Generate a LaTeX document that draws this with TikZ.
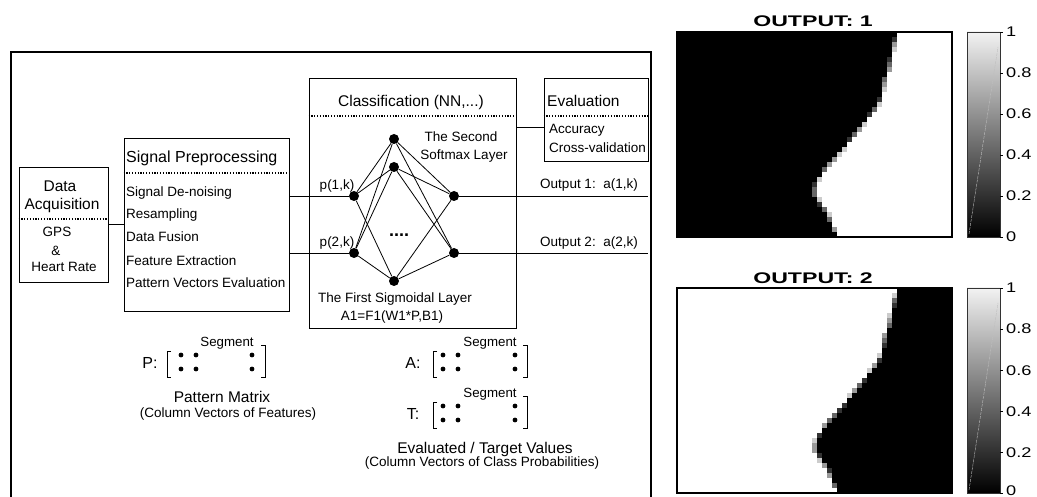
\documentclass[tikz,border=0pt]{standalone}
\usepackage{graphicx}
\usepackage{fontspec}
\setmainfont{Liberation Sans}
\begin{document}
\begin{tikzpicture}[x=1pt,y=-1pt,
  lbl/.style={inner sep=0pt, anchor=base, font=\fontsize{13.5}{16}\selectfont},
  lblw/.style={inner sep=0pt, anchor=base west, font=\fontsize{13.5}{16}\selectfont},
  big/.style={inner sep=0pt, anchor=base, font=\fontsize{15.5}{18}\selectfont},
  bigw/.style={inner sep=0pt, anchor=base west, font=\fontsize{15.5}{18}\selectfont},
  neu/.style={circle, fill=black, inner sep=0pt, minimum size=10pt},
  conn/.style={line width=0.8pt},
  box/.style={draw, line width=0.8pt, inner sep=0pt},
  dotl/.style={line width=1.3pt, dash pattern=on 1.2pt off 1.6pt},
  brk/.style={line width=0.8pt},
  ticklbl/.style={inner sep=0pt, anchor=base west, font=\fontsize{14}{16}\selectfont},
  ttl/.style={inner sep=0pt, anchor=base, font=\fontsize{15.4}{18}\selectfont\bfseries},
  cbar/.style={draw=black!80, line width=0.6pt}
]
\useasboundingbox (0,0) rectangle (1037,497);

% outer frame
\draw[line width=1.6pt] (11,497) -- (11,52) -- (651,52) -- (651,497);

% boxes
\node[box, minimum width=89pt, minimum height=115pt] (da) at (63.5,224.5) {};
\node[box, minimum width=165pt, minimum height=173pt] (sp) at (206.5,224.5) {};
\node[box, minimum width=207pt, minimum height=250pt] (cls) at (412.5,203) {};
\node[box, minimum width=104pt, minimum height=83pt] (ev) at (596,119.5) {};

% dotted separators
\draw[dotl] (da.west |- 0,219) -- (da.east |- 0,219);
\draw[dotl] (sp.west |- 0,173) -- (sp.east |- 0,173);
\draw[dotl] (cls.west |- 0,116) -- (cls.east |- 0,116);
\draw[dotl] (ev.west |- 0,116) -- (ev.east |- 0,116);

% Data acquisition text
\node[big] (t1) at (60,191.5) {Data};
\node[big] (t2) at (62,209.5) {Acquisition};
\node[lbl] (t3) at (57,237) {GPS};
\node[lbl] (t4) at (56,256) {\&};
\node[lbl] (t5) at (64,272) {Heart Rate};

% Signal preprocessing text
\node[inner sep=0pt, anchor=base west, font=\fontsize{16}{18}\selectfont] (s0) at (126,162.5) {Signal Preprocessing};
\node[lblw] (s1) at (126,197) {Signal De-noising};
\node[lblw] (s2) at (126,219) {Resampling};
\node[lblw] (s3) at (126,242) {Data Fusion};
\node[lblw] (s4) at (126,266) {Feature Extraction};
\node[lblw] (s5) at (126,288) {Pattern Vectors Evaluation};

% Classification & evaluation text
\node[big] (c0) at (411,106.5) {Classification (NN,...)};
\node[bigw] (e0) at (547,106.5) {Evaluation};
\node[lblw] (e1) at (549,134) {Accuracy};
\node[lblw] (e2) at (549,153) {Cross-validation};

% neurons
\node[neu] (i1) at (354,196) {};
\node[neu] (i2) at (354,253) {};
\node[neu] (h1) at (394,139) {};
\node[neu] (h2) at (394,167) {};
\node[neu] (h3) at (394,281) {};
\node[neu] (o1) at (454,196) {};
\node[neu] (o2) at (454,253) {};

\foreach \a in {i1,i2} \foreach \b in {h1,h2,h3} \draw[conn] (\a) -- (\b);
\foreach \a in {h1,h2,h3} \foreach \b in {o1,o2} \draw[conn] (\a) -- (\b);

% connectors
\draw[conn] (da.east) -- (sp.west);
\draw[conn] (sp.east |- i1) -- (i1);
\draw[conn] (sp.east |- i2) -- (i2);
\coordinate (out1) at (648,196);
\coordinate (out2) at (648,253);
\draw[conn] (o1) -- (out1);
\draw[conn] (o2) -- (out2);
\coordinate (ec) at (530,127);
\draw[conn] (cls.east |- ec) -- (ev.west |- ec);

% NN labels
\node[lbl] (p1) at (337,190) {p(1,k)};
\node[lbl] (p2) at (337,247) {p(2,k)};
\node[lbl] (a1) at (589,189) {Output 1:\ \ a(1,k)};
\node[lbl] (a2) at (589,247) {Output 2:\ \ a(2,k)};
\node[inner sep=0pt, anchor=base, font=\fontsize{18}{18}\selectfont\bfseries] (dd) at (399,236.5) {....};
\node[lbl] (l1) at (461,142) {The Second};
\node[lbl] (l2) at (464,160) {Softmax Layer};
\node[lbl] (l3) at (395,303) {The First Sigmoidal Layer};
\node[lbl] (l4) at (392,320) {A1=F1(W1*P,B1)};

% matrices
\newcommand{\mymat}[4]{% #1 left x, #2 right x, #3 y offset, #4 dot xs
  \draw[brk] ({#1+4},{351+#3}) -- (#1,{351+#3}) -- (#1,{377+#3}) -- ({#1+4},{377+#3});
  \draw[brk] ({#2-4},{345+#3}) -- (#2,{345+#3}) -- (#2,{377+#3}) -- ({#2-4},{377+#3});
  \foreach \dx in {#4} {
    \fill (\dx,{355+#3}) circle (2.4pt);
    \fill (\dx,{369+#3}) circle (2.4pt);
  }
}
\mymat{167}{265}{0}{181,196,252}
\mymat{433}{527}{0}{443,458,515}
\mymat{433}{527}{51}{443,458,515}

\node[inner sep=0pt, anchor=base, font=\fontsize{13.3}{15}\selectfont] (sg1) at (227,346) {Segment};
\node[inner sep=0pt, anchor=base, font=\fontsize{13.3}{15}\selectfont] (sg2) at (490,346) {Segment};
\node[inner sep=0pt, anchor=base, font=\fontsize{13.3}{15}\selectfont] (sg3) at (490,397) {Segment};
\node[inner sep=0pt, anchor=base, font=\fontsize{16}{18}\selectfont] (mp) at (150,368.5) {P:};
\node[inner sep=0pt, anchor=base, font=\fontsize{16}{18}\selectfont] (ma) at (413,368.5) {A:};
\node[inner sep=0pt, anchor=base, font=\fontsize{16}{18}\selectfont] (mt) at (413,419.5) {T:};
\node[big] (pm1) at (222,402.7) {Pattern Matrix};
\node[lbl] (pm2) at (228,417.5) {(Column Vectors of Features)};
\node[big] (ev1) at (485,453.6) {Evaluated / Target Values};
\node[lbl] (ev2) at (482,466.5) {(Column Vectors of Class Probabilities)};

% ---------- heatmaps ----------
\def\bndlist{897,896,894,893,892,891,890,889,887,885,884,883,882,881,878,875,871,867,863,859,855,851,847,843,838,834,829,825,822,818,816,815,815,818,821,825,828,830,832,834,837}

% heatmap 1
\fill[black] (677,32) rectangle (952,237);
\foreach \x [count=\i from 0] in \bndlist {
  \pgfmathtruncatemacro\c{floor((\x-677)/5)}
  \pgfmathtruncatemacro\g{100-round(100*((\x-677)/5-\c))}
  \fill[white!\g!black] ({677+5*\c},{32+5*\i}) rectangle ({682+5*\c},{37.2+5*\i});
  \fill[white] ({682+5*\c},{32+5*\i}) rectangle (952,{37.2+5*\i});
}
\draw[line width=1.6pt] (677,32) rectangle (952,237);

% heatmap 2
\fill[white] (677,288) rectangle (952,493);
\foreach \x [count=\i from 0] in \bndlist {
  \pgfmathtruncatemacro\c{floor((\x-677)/5)}
  \pgfmathtruncatemacro\g{100-round(100*((\x-677)/5-\c))}
  \fill[black!\g!white] ({677+5*\c},{288+5*\i}) rectangle ({682+5*\c},{293.2+5*\i});
  \fill[black] ({682+5*\c},{288+5*\i}) rectangle (952,{293.2+5*\i});
}
\draw[line width=1.6pt] (677,288) rectangle (952,493);

% titles
\node[ttl] (ttl1) at (813,27) {\scalebox{1.5}[1]{OUTPUT: 1}};
\node[ttl] (ttl2) at (813,283.5) {\scalebox{1.5}[1]{OUTPUT: 2}};

% colorbars
\foreach \yy in {32,288} {
  \shade[top color=white!95!black, bottom color=black] (967,\yy) rectangle (1000,{\yy+205});
  \draw[white!75!black, line width=0.4pt, dash pattern=on 3pt off 1pt] (969,{\yy+202}) -- (998,{\yy+15});
  \draw[cbar] (967,\yy) rectangle (1000,{\yy+205});
  \foreach \k in {0,...,5} {
    \draw[line width=0.6pt] (1000,{\yy+41*\k}) -- (1003,{\yy+41*\k});
  }
}
\foreach \yy/\n/\zb in {32/a/242,288/b/495} {
  \node[ticklbl] (tk1\n) at (1006,{\yy+5}) {\scalebox{1.3}[1]{1}};
  \node[ticklbl] (tk2\n) at (1006,{\yy+41+5}) {\scalebox{1.3}[1]{0.8}};
  \node[ticklbl] (tk3\n) at (1006,{\yy+82+5}) {\scalebox{1.3}[1]{0.6}};
  \node[ticklbl] (tk4\n) at (1006,{\yy+123+5}) {\scalebox{1.3}[1]{0.4}};
  \node[ticklbl] (tk5\n) at (1006,{\yy+164+5}) {\scalebox{1.3}[1]{0.2}};
  \node[ticklbl] (tk6\n) at (1006,\zb) {\scalebox{1.3}[1]{0}};
}
\end{tikzpicture}
\end{document}
